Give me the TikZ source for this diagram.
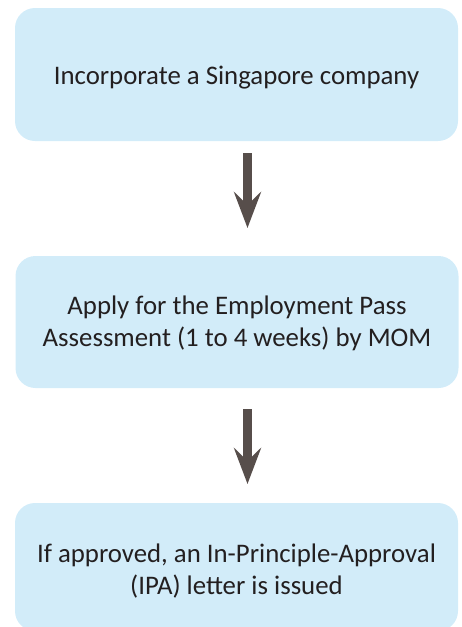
\documentclass[tikz,border=0pt]{standalone}
\usepackage{fontspec}
\setmainfont{Carlito}
\usetikzlibrary{arrows.meta}
\definecolor{boxfill}{RGB}{210,236,249}
\definecolor{arrowcol}{RGB}{87,78,75}
\definecolor{txt}{RGB}{35,31,32}
\begin{document}
\begin{tikzpicture}[x=1pt,y=-1pt,
  stepbox/.style={fill=boxfill, draw=none, rounded corners=20pt,
    minimum width=443pt, inner sep=0pt, outer sep=0pt},
  steptext/.style={text=txt, align=center, inner sep=0pt,
    font=\fontsize{26.8pt}{32pt}\selectfont},
  flow/.style={draw=arrowcol, line width=8.5pt,
    -{Stealth[length=36pt, width=27pt, inset=13pt, fill=arrowcol]}}]
  \useasboundingbox (0,0) rectangle (462,627);
  \begin{scope}
    \clip (0,0) rectangle (462,627);
    \node[stepbox, minimum height=133pt] (b1) at (236.5,74.5) {};
    \node[stepbox, minimum height=132pt] (b2) at (237,322) {};
    \node[stepbox, minimum height=128pt] (b3) at (236.5,567) {};
  \end{scope}
  \node[steptext] (t1) at ([yshift=-3pt]b1.center)
    {Incorporate a Singapore company};
  \node[steptext] (t2) at ([yshift=-1pt]b2.center)
    {Apply for the Employment Pass\\Assessment (1 to 4 weeks) by MOM};
  \node[steptext] (t3) at ([yshift=-4pt]b3.center)
    {If approved, an In-Principle-Approval\\(IPA) letter is issued};
  \draw[flow, shorten <=12pt, shorten >=28pt]
    ([xshift=11pt]b1.south) -- ([xshift=11pt]b1.south |- b2.north);
  \draw[flow, shorten <=21pt, shorten >=19pt]
    ([xshift=10.5pt]b2.south) -- ([xshift=10.5pt]b2.south |- b3.north);
\end{tikzpicture}
\end{document}
